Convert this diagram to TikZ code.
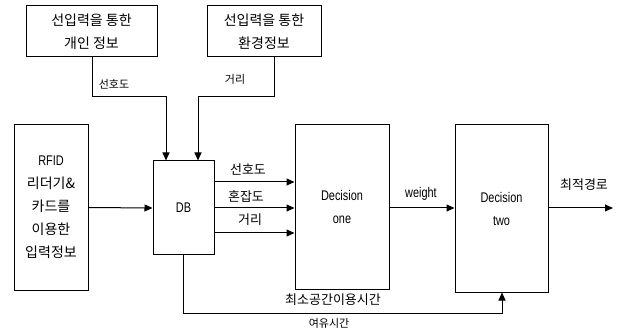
\documentclass[tikz,border=0pt]{standalone}
\usepackage{fontspec}
\setmainfont{Liberation Sans}[FakeStretch=0.78]
\newfontfamily\kr{Noto Sans CJK KR}
\usetikzlibrary{arrows.meta}
\begin{document}
\begin{tikzpicture}[x=1pt,y=-1pt,
  box/.style={draw,line width=1pt,inner sep=0pt,align=center},
  boxtxt/.style={font=\fontsize{14}{23}\selectfont},
  conn/.style={line width=1pt},
  arr/.style={conn,-{Triangle[length=8pt,width=7pt]}},
  lbl/.style={font=\kr\fontsize{13}{15}\selectfont,inner sep=1pt},
  slbl/.style={font=\kr\fontsize{11}{13}\selectfont,inner sep=1pt},
  lat/.style={font=\fontsize{14}{16}\selectfont,inner sep=1pt}]
\useasboundingbox (0,0) rectangle (624,331);
% boxes
\node[box,boxtxt,minimum width=131pt,minimum height=51pt] (b1) at (91.5,31.5) {\kr 선입력을 통한\\\kr 개인 정보};
\node[box,boxtxt,minimum width=114pt,minimum height=51pt] (b2) at (264,31.5) {\kr 선입력을 통한\\\kr 환경정보};
\node[box,boxtxt,minimum width=74pt,minimum height=165pt] (rf) at (51,207.5) {RFID\\\kr 리더기\&\\\kr 카드를\\\kr 이용한\\\kr 입력정보};
\node[box,boxtxt,minimum width=61pt,minimum height=94pt] (db) at (183.5,208) {DB};
\node[box,boxtxt,minimum width=94pt,minimum height=164pt] (d1) at (342,207) {Decision\\one};
\node[box,boxtxt,minimum width=93pt,minimum height=167pt] (d2) at (501.5,208.5) {Decision\\two};
% top connectors
\coordinate (t1) at (92,97);
\coordinate (t2) at (274,97);
\draw[arr] ([xshift=0.5pt]b1.south) -- (t1) -| ([xshift=-17.5pt]db.north);
\draw[arr] ([xshift=10pt]b2.south) -- (t2) -| ([xshift=14.5pt]db.north);
\node[slbl] (l1) at (114,84) {선호도};
\node[slbl] (l2) at (235,79) {거리};
% RFID -> DB
\draw[arr] (rf.east) -- (db.west);
% DB -> Decision one
\draw[arr] ([yshift=26pt]db.east) -- (d1.west |- 0,182);
\draw[arr] (db.east) -- (d1.west |- 0,208);
\draw[arr] ([yshift=-25pt]db.east) -- (d1.west |- 0,233);
\node[lbl] (l3) at (248,170) {선호도};
\node[lbl] (l4) at (246,196) {혼잡도};
\node[lbl] (l5) at (250,220) {거리};
% Decision one -> two
\draw[arr] (d1.east |- 0,208) -- (d2.west |- 0,208);
\node[lat] (l6) at (421,194) {weight};
% output
\coordinate (out) at (613,208);
\draw[arr] (d2.east |- 0,208) -- (out);
\node[lbl] (l7) at (584,185) {최적경로};
% bottom loop
\coordinate (bl) at (183.5,313);
\draw[arr] (db.south) -- (bl) -| ([xshift=0.5pt]d2.south);
\node[lbl] (l8) at (333,300) {최소공간이용시간};
\node[slbl] (l9) at (329,323) {여유시간};
\end{tikzpicture}
\end{document}
